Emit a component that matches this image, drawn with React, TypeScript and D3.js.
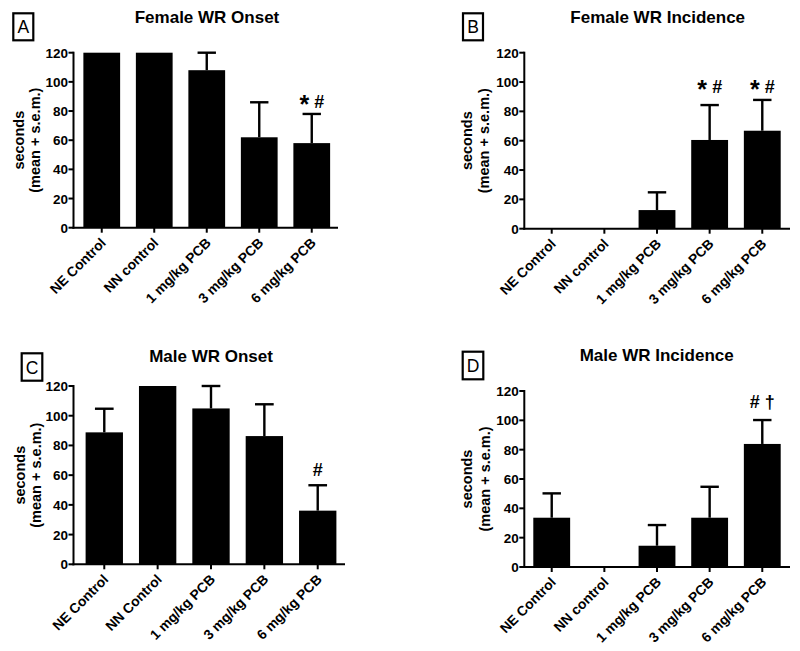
import React from "react";
import * as d3 from "d3";

// ---------- data ----------
const femaleCategories = ["NE Control", "NN control", "1 mg/kg PCB", "3 mg/kg PCB", "6 mg/kg PCB"];
const maleOnsetCategories = ["NE Control", "NN Control", "1 mg/kg PCB", "3 mg/kg PCB", "6 mg/kg PCB"];
const maleIncidenceCategories = ["NE Control", "NN control", "1 mg/kg PCB", "3 mg/kg PCB", "6 mg/kg PCB"];

const femaleOnsetMean = [120, 120, 108, 62, 58];
const femaleOnsetSem = [0, 0, 12, 24, 20];
const femaleOnsetMarks = ["", "", "", "", "* #"];

const femaleIncidenceMean = [0, 0, 12.7, 60.5, 66.8];
const femaleIncidenceSem = [0, 0, 12.1, 23.8, 21];
const femaleIncidenceMarks = ["", "", "", "* #", "* #"];

const maleOnsetMean = [88.8, 120, 104.9, 86.3, 36.1];
const maleOnsetSem = [15.9, 0, 15.1, 21.4, 17.1];
const maleOnsetMarks = ["", "", "", "", "#"];

const maleIncidenceMean = [33.6, 0, 14.5, 33.6, 83.9];
const maleIncidenceSem = [16.6, 0, 14.1, 21.1, 16.3];
const maleIncidenceMarks = ["", "", "", "", "# \u2020"];

const yTicks = [0, 20, 40, 60, 80, 100, 120];

type Panel = {
  letter: string;
  title: string;
  cats: string[];
  mean: number[];
  sem: number[];
  marks: string[];
  markY: number;
  axisL: number;
  axisR: number;
  bandL: number;
  bandR: number;
  yTop: number;
  yBot: number;
  titleX: number;
  titleY: number;
  box: [number, number, number, number];
  lab1X: number;
  lab2X: number;
};

const panels: Panel[] = [
  {
    letter: "A", title: "Female WR Onset", cats: femaleCategories,
    mean: femaleOnsetMean, sem: femaleOnsetSem, marks: femaleOnsetMarks, markY: 82,
    axisL: 73.5, axisR: 338, bandL: 75.5, bandR: 338, yTop: 52.7, yBot: 227.7,
    titleX: 207, titleY: 22.7, box: [13.3, 13.3, 20, 27], lab1X: 24, lab2X: 39.5,
  },
  {
    letter: "B", title: "Female WR Incidence", cats: femaleCategories,
    mean: femaleIncidenceMean, sem: femaleIncidenceSem, marks: femaleIncidenceMarks, markY: 92.3,
    axisL: 524.3, axisR: 790, bandL: 525.4, bandR: 788.6, yTop: 52.7, yBot: 228.7,
    titleX: 657.7, titleY: 22.7, box: [463, 13.3, 20, 27], lab1X: 472, lab2X: 489,
  },
  {
    letter: "C", title: "Male WR Onset", cats: maleOnsetCategories,
    mean: maleOnsetMean, sem: maleOnsetSem, marks: maleOnsetMarks, markY: 59.6,
    axisL: 73.5, axisR: 345, bandL: 77.6, bandR: 344.4, yTop: 386, yBot: 564.3,
    titleX: 211, titleY: 361.7, box: [21.7, 353.3, 20.6, 27.4], lab1X: 25, lab2X: 40.5,
  },
  {
    letter: "D", title: "Male WR Incidence", cats: maleIncidenceCategories,
    mean: maleIncidenceMean, sem: maleIncidenceSem, marks: maleIncidenceMarks, markY: 108.2,
    axisL: 524.3, axisR: 790, bandL: 525.4, bandR: 788.6, yTop: 391, yBot: 567,
    titleX: 656.7, titleY: 360.7, box: [462.7, 351.7, 20.6, 27.6], lab1X: 472, lab2X: 489.5,
  },
];

const FONT = "'Liberation Sans', Arial, Helvetica, sans-serif";

function MarkText({ x, y, text }: { x: number; y: number; text: string }) {
  const parts = text.split(" ");
  const n = parts.length;
  return (
    <g>
      {parts.map((t, k) => {
        const isStar = t === "*";
        return (
          <text
            key={k}
            x={x + (k - (n - 1) / 2) * 15}
            y={y + (isStar ? 5 : 0)}
            textAnchor="middle"
            fontSize={isStar ? 25 : 18}
            fontWeight="bold"
          >
            {t}
          </text>
        );
      })}
    </g>
  );
}

function ChartPanel({ p }: { p: Panel }) {
  const x = d3.scaleBand<string>().domain(p.cats).range([p.bandL, p.bandR]).paddingInner(0.3).paddingOuter(0.15);
  const y = d3.scaleLinear().domain([0, 120]).range([p.yBot, p.yTop]);
  const bw = x.bandwidth();
  const yMid = (p.yTop + p.yBot) / 2;
  return (
    <g fontFamily={FONT}>
      <rect x={p.box[0]} y={p.box[1]} width={p.box[2]} height={p.box[3]} fill="none" stroke="#000" strokeWidth={2.2} />
      <text x={p.box[0] + p.box[2] / 2} y={p.box[1] + p.box[3] / 2 + 6.5} textAnchor="middle" fontSize={17.5}>{p.letter}</text>
      <text x={p.titleX} y={p.titleY} textAnchor="middle" fontSize={17} fontWeight="bold">{p.title}</text>
      {/* y label */}
      <text transform={`translate(${p.lab1X},${yMid}) rotate(-90)`} textAnchor="middle" fontSize={14.5} fontWeight="bold">seconds</text>
      <text transform={`translate(${p.lab2X},${yMid}) rotate(-90)`} textAnchor="middle" fontSize={14.5} fontWeight="bold">(mean + s.e.m.)</text>
      {/* error bars */}
      {p.cats.map((c, i) => {
        if (p.sem[i] <= 0) return null;
        const cx = (x(c) as number) + bw / 2;
        return (
          <g key={"e" + i} stroke="#000" strokeWidth={2.4}>
            <line x1={cx} x2={cx} y1={y(p.mean[i])} y2={y(p.mean[i] + p.sem[i])} />
            <line x1={cx - bw / 4} x2={cx + bw / 4} y1={y(p.mean[i] + p.sem[i])} y2={y(p.mean[i] + p.sem[i])} />
          </g>
        );
      })}
      {/* bars */}
      {p.cats.map((c, i) => (
        <rect key={"b" + i} x={x(c) as number} y={y(p.mean[i])} width={bw} height={y(0) - y(p.mean[i])} fill="#000" />
      ))}
      {/* marks */}
      {p.cats.map((c, i) =>
        p.marks[i] ? <MarkText key={"m" + i} x={(x(c) as number) + bw / 2} y={y(p.markY)} text={p.marks[i]} /> : null
      )}
      {/* y axis */}
      <line x1={p.axisL} x2={p.axisL} y1={p.yTop - 1} y2={p.yBot + 1} stroke="#000" strokeWidth={2} />
      {yTicks.map((t) => (
        <g key={"t" + t}>
          <line x1={p.axisL - 5} x2={p.axisL} y1={y(t)} y2={y(t)} stroke="#000" strokeWidth={2} />
          <text x={p.axisL - 5.5} y={y(t) + 5} textAnchor="end" fontSize={13.5} fontWeight="bold">{t}</text>
        </g>
      ))}
      {/* x axis */}
      <line x1={p.axisL - 1} x2={p.axisR} y1={p.yBot} y2={p.yBot} stroke="#000" strokeWidth={2} />
      {p.cats.map((c, i) => {
        const cx = (x(c) as number) + bw / 2;
        return (
          <g key={"x" + i}>
            <line x1={cx} x2={cx} y1={p.yBot} y2={p.yBot + 5} stroke="#000" strokeWidth={2} />
            <text transform={`translate(${cx + 5},${p.yBot + 16}) rotate(-45)`} textAnchor="end" fontSize={13.8} fontWeight="bold">{c}</text>
          </g>
        );
      })}
    </g>
  );
}

export default function App() {
  return (
    <svg width={800} height={651} style={{ position: "absolute", left: 0, top: 0, background: "#fff" }}>
      <rect x={0} y={0} width={800} height={651} fill="#fff" />
      {panels.map((p) => (
        <ChartPanel key={p.letter} p={p} />
      ))}
    </svg>
  );
}
